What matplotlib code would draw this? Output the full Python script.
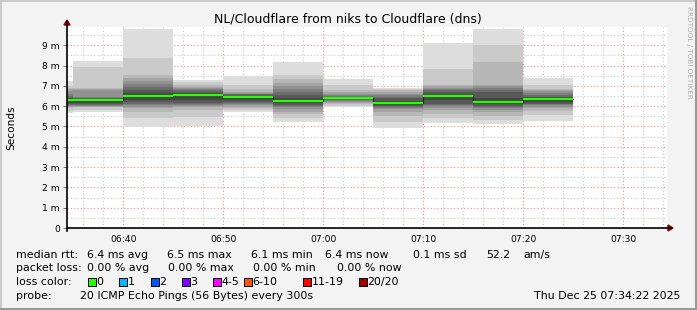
import matplotlib
matplotlib.use("Agg")
import matplotlib.pyplot as plt
from matplotlib.patches import Rectangle, Polygon
from matplotlib.lines import Line2D
import numpy as np

# ---------------- data ----------------
title = "NL/Cloudflare from niks to Cloudflare (dns)"
block_starts = ["06:30", "06:35", "06:40", "06:45", "06:50", "06:55",
                "07:00", "07:05", "07:10", "07:15", "07:20"]
step_minutes = 5
# 20 sorted ping RTTs (ms) per 5-minute block
pings = [
    [5.66, 5.78, 5.90, 5.96, 6.00, 6.03, 6.06, 6.10, 6.18, 6.27, 6.33, 6.38, 6.42, 6.48, 6.60, 6.75, 6.85, 6.92, 6.98, 7.23],
    [5.69, 5.80, 5.94, 5.97, 6.00, 6.03, 6.06, 6.10, 6.18, 6.27, 6.34, 6.36, 6.38, 6.40, 6.45, 6.82, 6.85, 6.88, 7.92, 8.21],
    [4.98, 5.40, 5.70, 5.89, 5.97, 6.05, 6.12, 6.20, 6.32, 6.46, 6.54, 6.66, 6.79, 6.95, 7.10, 7.23, 7.40, 7.56, 8.35, 9.82],
    [5.02, 5.47, 5.80, 5.97, 6.03, 6.08, 6.12, 6.15, 6.30, 6.48, 6.58, 6.64, 6.70, 6.78, 6.85, 6.90, 6.95, 7.05, 7.17, 7.28],
    [5.69, 5.80, 5.90, 5.97, 6.05, 6.12, 6.18, 6.22, 6.30, 6.40, 6.46, 6.50, 6.54, 6.58, 6.62, 6.66, 6.70, 6.85, 7.03, 7.49],
    [5.23, 5.43, 5.60, 5.69, 5.85, 5.95, 6.02, 6.05, 6.15, 6.23, 6.29, 6.40, 6.55, 6.70, 6.85, 7.00, 7.15, 7.36, 7.53, 8.18],
    [5.97, 6.02, 6.10, 6.17, 6.22, 6.27, 6.31, 6.35, 6.37, 6.38, 6.40, 6.43, 6.46, 6.50, 6.55, 6.62, 6.72, 6.80, 7.04, 7.33],
    [4.91, 5.23, 5.50, 5.69, 5.85, 5.92, 5.97, 6.02, 6.08, 6.14, 6.18, 6.25, 6.40, 6.47, 6.55, 6.62, 6.70, 6.78, 6.85, 6.92],
    [5.15, 5.40, 5.62, 5.80, 5.92, 6.02, 6.08, 6.13, 6.30, 6.47, 6.55, 6.62, 6.70, 6.78, 6.85, 6.92, 6.98, 7.03, 7.85, 9.13],
    [5.12, 5.30, 5.50, 5.69, 5.80, 5.90, 5.97, 6.03, 6.12, 6.20, 6.24, 6.40, 6.70, 6.80, 6.90, 6.97, 7.03, 8.18, 9.00, 9.82],
    [5.26, 5.56, 5.75, 5.89, 5.98, 6.05, 6.10, 6.13, 6.22, 6.32, 6.38, 6.45, 6.47, 6.55, 6.65, 6.75, 6.82, 6.87, 7.04, 7.40],
]
medians = [6.30, 6.31, 6.50, 6.53, 6.43, 6.26, 6.39, 6.16, 6.51, 6.22, 6.35]
x_ticks = ["06:40", "06:50", "07:00", "07:10", "07:20", "07:30"]
y_ticks = [0, 1, 2, 3, 4, 5, 6, 7, 8, 9]
y_labels = ["0", "1 m", "2 m", "3 m", "4 m", "5 m", "6 m", "7 m", "8 m", "9 m"]
view_start = "06:34:22"
view_end = "07:34:22"

legend_rows = [
    ("median rtt:", [("6.4 ms avg", 87), ("6.5 ms max", 167), ("6.1 ms min", 251),
                     ("6.4 ms now", 325), ("0.1 ms sd", 413), ("52.2", 486), ("am/s", 523)]),
    ("packet loss:", [("0.00 % avg", 87), ("0.00 % max", 168), ("0.00 % min", 253),
                      ("0.00 % now", 337)]),
]
loss_labels = ["0", "1", "2", "3", "4-5", "6-10", "11-19", "20/20"]
loss_colors = ["#26ff00", "#00b8ff", "#0059ff", "#7e00ff", "#ff00ff", "#ff5500", "#ff0000", "#a00000"]
loss_x = [88, 119, 151, 182, 213, 244, 303, 359]
probe_text = "20 ICMP Echo Pings (56 Bytes) every 300s"
date_text = "Thu Dec 25 07:34:22 2025"


def to_min(s):
    parts = [int(p) for p in s.split(":")]
    m = parts[0] * 60 + parts[1]
    if len(parts) > 2:
        m += parts[2] / 60.0
    return m


# ---------------- figure ----------------
W, H = 697, 310
fig = plt.figure(figsize=(W / 100, H / 100), dpi=100)
fig.patch.set_facecolor("#f3f3f3")
plt.rcParams['font.family'] = ['DejaVu Sans']


def fx(x):
    return x / W


def fy(y):
    return 1 - y / H


L, R, T, B = 67, 667, 27, 228
ax = fig.add_axes([fx(L), fy(B), (R - L) / W, (B - T) / H])
ax.set_facecolor("white")
x0, x1 = to_min(view_start), to_min(view_end)
ax.set_xlim(x0, x1)
ax.set_ylim(0, 9.9)
for s in ax.spines.values():
    s.set_visible(False)

# grid
for m in range(int(np.ceil(x0)), int(x1) + 1):
    if m % 2 == 0 and m % 10 != 0:
        ax.axvline(m, color="#c8c8c8", lw=0.8, ls=(0, (1, 2)), zorder=0)
for v in np.arange(0.5, 9.9, 1.0):
    ax.axhline(v, color="#c8c8c8", lw=0.8, ls=(0, (1, 2)), zorder=0)
for t in x_ticks:
    ax.axvline(to_min(t), color="#f08a8a", lw=0.8, ls=(0, (1, 2)), zorder=0)
for v in y_ticks[1:]:
    ax.axhline(v, color="#f08a8a", lw=0.8, ls=(0, (1, 2)), zorder=0)

# smoke
starts = np.array([to_min(s) for s in block_starts], dtype=float)
P = np.array(pings)
half = P.shape[1] // 2
for i in range(1, half + 1):
    g = int(190 / half * (half - i)) + 50
    col = "#%02x%02x%02x" % (g, g, g)
    lo = P[:, i - 1]
    hi = P[:, P.shape[1] - i]
    ax.bar(starts, hi - lo, bottom=lo, width=step_minutes, align="edge",
           color=col, linewidth=0, zorder=2)

# median line
xs = np.append(starts, starts[-1] + step_minutes)
ys = np.append(medians, medians[-1])
ax.step(xs, ys, where="post", color="#202020", lw=0.8, zorder=3)
ax.hlines(medians, starts, starts + step_minutes, color="#26ff00", lw=1.6, zorder=4)

# ticks
ax.set_xticks([to_min(t) for t in x_ticks])
ax.set_xticklabels(x_ticks, fontsize=6.6)
ax.set_yticks(y_ticks)
ax.set_yticklabels(y_labels, fontsize=6.6)
ax.tick_params(axis="x", length=0, pad=5)
ax.tick_params(axis="y", length=3, width=0.6, pad=2, color="#606060")

# axes lines + arrows
fig.add_artist(Line2D([fx(L), fx(671)], [fy(B), fy(B)], color="black", lw=1.2))
fig.add_artist(Line2D([fx(L), fx(L)], [fy(B + 3), fy(22)], color="black", lw=1.2))
fig.add_artist(Polygon([(fx(668), fy(B - 3)), (fx(668), fy(B + 3)), (fx(673), fy(B))],
                       closed=True, color="#8b0000", transform=fig.transFigure))
fig.add_artist(Polygon([(fx(L - 3), fy(25)), (fx(L + 3), fy(25)), (fx(L), fy(20))],
                       closed=True, color="#8b0000", transform=fig.transFigure))

# texts
fig.text(fx(348), fy(19), title, ha="center", va="center", fontsize=9.0)
fig.text(fx(11), fy(128), "Seconds", rotation=90, ha="center", va="center", fontsize=7.6)
fig.text(fx(689), fy(6), "RRDTOOL / TOBI OETIKER", rotation=270, ha="center", va="top",
         fontsize=5.2, color="#b0b0b0")

row_y = [255, 268, 282, 296]
fs = 7.9
for (lab, items), yy in zip(legend_rows, row_y):
    fig.text(fx(16), fy(yy), lab, ha="left", va="center", fontsize=fs)
    for txt, xx in items:
        fig.text(fx(xx), fy(yy), txt, ha="left", va="center", fontsize=fs)
fig.text(fx(16), fy(row_y[2]), "loss color:", ha="left", va="center", fontsize=fs)
for lab, col, xx in zip(loss_labels, loss_colors, loss_x):
    fig.add_artist(Rectangle((fx(xx), fy(row_y[2] + 4)), 8 / W, 8 / H, transform=fig.transFigure,
                             facecolor=col, edgecolor="black", lw=0.7))
    fig.text(fx(xx + 8.5), fy(row_y[2]), lab, ha="left", va="center", fontsize=fs)
fig.text(fx(16), fy(row_y[3]), "probe:", ha="left", va="center", fontsize=fs)
fig.text(fx(80), fy(row_y[3]), probe_text, ha="left", va="center", fontsize=fs)
fig.text(fx(680), fy(row_y[3]), date_text, ha="right", va="center", fontsize=fs)

# 3D frame
fig.add_artist(Line2D([0, 1], [fy(0.5), fy(0.5)], color="#cbcbcb", lw=1.5))
fig.add_artist(Line2D([fx(0.5), fx(0.5)], [0, 1], color="#cbcbcb", lw=1.5))
fig.add_artist(Line2D([0, 1], [fy(308.5), fy(308.5)], color="#999999", lw=2.2))
fig.add_artist(Line2D([fx(695.5), fx(695.5)], [0, 1], color="#999999", lw=2.2))

fig.savefig("out.png", dpi=100, facecolor=fig.get_facecolor())
